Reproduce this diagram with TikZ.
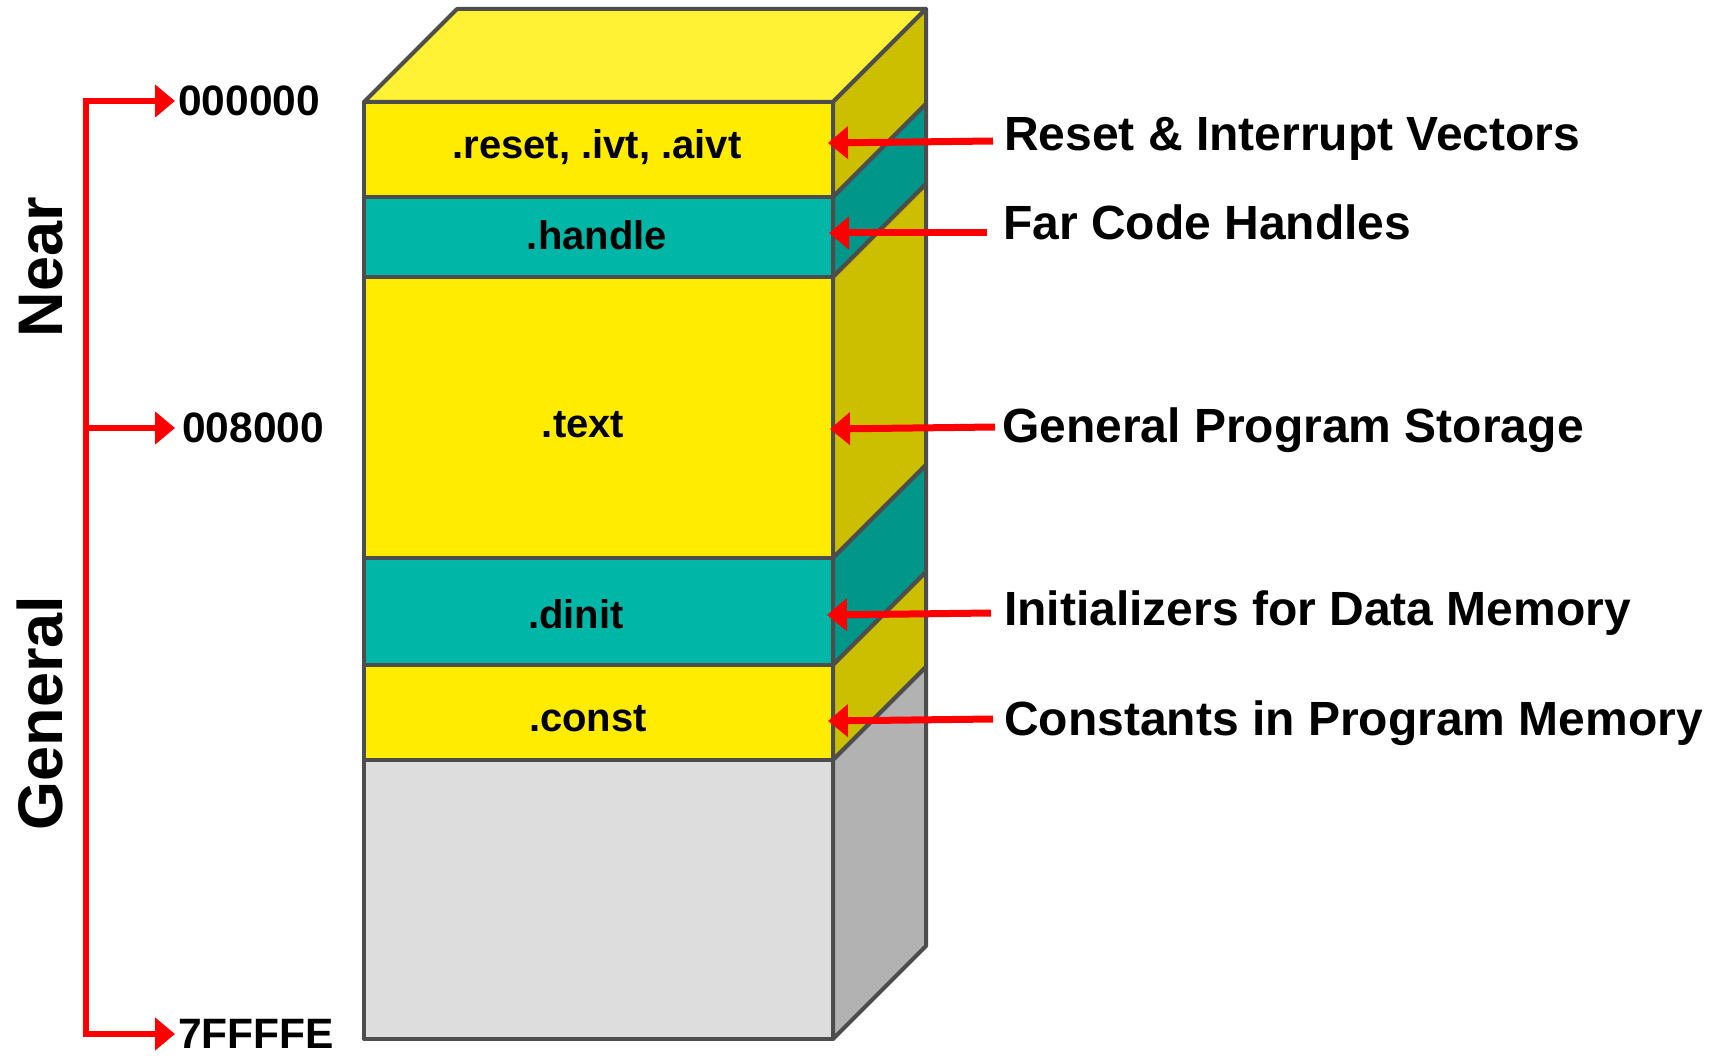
\documentclass[tikz,border=0pt]{standalone}
\usepackage{fontspec}
\setmainfont{Liberation Sans}
\usetikzlibrary{arrows.meta}

\definecolor{frontY}{HTML}{FFEC00}
\definecolor{topY}{HTML}{FFF133}
\definecolor{sideY}{HTML}{CCBF00}
\definecolor{frontT}{HTML}{00B6A7}
\definecolor{sideT}{HTML}{00968A}
\definecolor{frontG}{HTML}{DDDDDD}
\definecolor{sideG}{HTML}{B2B2B2}
\definecolor{edgeGray}{HTML}{4D4D4D}
\definecolor{pointerRed}{HTML}{FF0000}

\begin{document}
\begin{tikzpicture}[x=1pt,y=-1pt,
  blockedge/.style={draw=edgeGray, line width=4pt, line join=round},
  layertext/.style={font=\fontsize{40}{46}\selectfont\bfseries, inner sep=0pt, anchor=base},
  addrtext/.style={font=\fontsize{42.5}{48}\selectfont\bfseries, inner sep=0pt, anchor=west},
  notetext/.style={font=\fontsize{48}{55}\selectfont\bfseries, inner sep=0pt, anchor=base west},
  regiontext/.style={font=\fontsize{63}{70}\selectfont\bfseries, inner sep=0pt, rotate=90, anchor=base},
  bracketline/.style={draw=pointerRed, line width=6pt},
  bracketarrow/.style={draw=pointerRed, line width=6pt, -{Triangle[length=20pt,width=32pt]}},
  notearrow/.style={draw=pointerRed, line width=7pt, -{Triangle[length=20pt,width=32pt]}},
]
\useasboundingbox (0,0) rectangle (1715,1059);

% top face of the memory block
\filldraw[fill=topY, blockedge] (364,102) -- (457,9) -- (926,9) -- (833,102) -- cycle;

% memory sections: side face and front face
\foreach \ya/\yb/\fc/\sc in {102/197/frontY/sideY, 197/277/frontT/sideT,
    277/558/frontY/sideY, 558/665/frontT/sideT, 665/760/frontY/sideY,
    760/1039/frontG/sideG}
{
  \filldraw[fill=\sc, blockedge] (833,\ya) -- (926,{\ya-93}) -- (926,{\yb-93}) -- (833,\yb) -- cycle;
  \filldraw[fill=\fc, blockedge] (364,\ya) rectangle (833,\yb);
}

% section names
\node[layertext] (secReset)  at (597,159) {.reset, .ivt, .aivt};
\node[layertext] (secHandle) at (597,250) {.handle};
\node[layertext] (secText)   at (583,437) {.text};
\node[layertext] (secDinit)  at (576,628) {.dinit};
\node[layertext] (secConst)  at (588,731) {.const};

% address labels and bracket
\node[addrtext] (addrTop) at (178,101) {000000};
\node[addrtext] (addrMid) at (182,428) {008000};
\node[addrtext] (addrEnd) at (178,1034) {7FFFFE};

\coordinate (brTop) at (86,101);
\coordinate (brMid) at (86,428);
\coordinate (brEnd) at (86,1034);
\draw[bracketline, line cap=rect] (brTop) -- (brEnd);
\draw[bracketarrow] (brTop) -- ([xshift=-3pt]addrTop.west);
\draw[bracketarrow] (brMid) -- ([xshift=-7pt]addrMid.west);
\draw[bracketarrow] (brEnd) -- ([xshift=-3pt]addrEnd.west);

% region names
\node[regiontext] (regNear)    at (62,267) {Near};
\node[regiontext] (regGeneral) at (62,713) {General};

% descriptions
\node[notetext] (noteReset)  at (1004,151) {Reset \& Interrupt Vectors};
\node[notetext] (noteHandle) at (1003,240) {Far Code Handles};
\node[notetext] (noteText)   at (1002,442) {General Program Storage};
\node[notetext] (noteDinit)  at (1004,625) {Initializers for Data Memory};
\node[notetext] (noteConst)  at (1004,735) {Constants in Program Memory};

\coordinate (pResetS)  at (993,141);  \coordinate (pResetE)  at (828,143);
\coordinate (pHandleS) at (987,233);  \coordinate (pHandleE) at (829,233);
\coordinate (pTextS)   at (995,427);  \coordinate (pTextE)   at (830,429);
\coordinate (pDinitS)  at (991,613);  \coordinate (pDinitE)  at (827,615);
\coordinate (pConstS)  at (993,719);  \coordinate (pConstE)  at (828,721);
\draw[notearrow] (pResetS)  -- (pResetE);
\draw[notearrow] (pHandleS) -- (pHandleE);
\draw[notearrow] (pTextS)   -- (pTextE);
\draw[notearrow] (pDinitS)  -- (pDinitE);
\draw[notearrow] (pConstS)  -- (pConstE);
\end{tikzpicture}
\end{document}
